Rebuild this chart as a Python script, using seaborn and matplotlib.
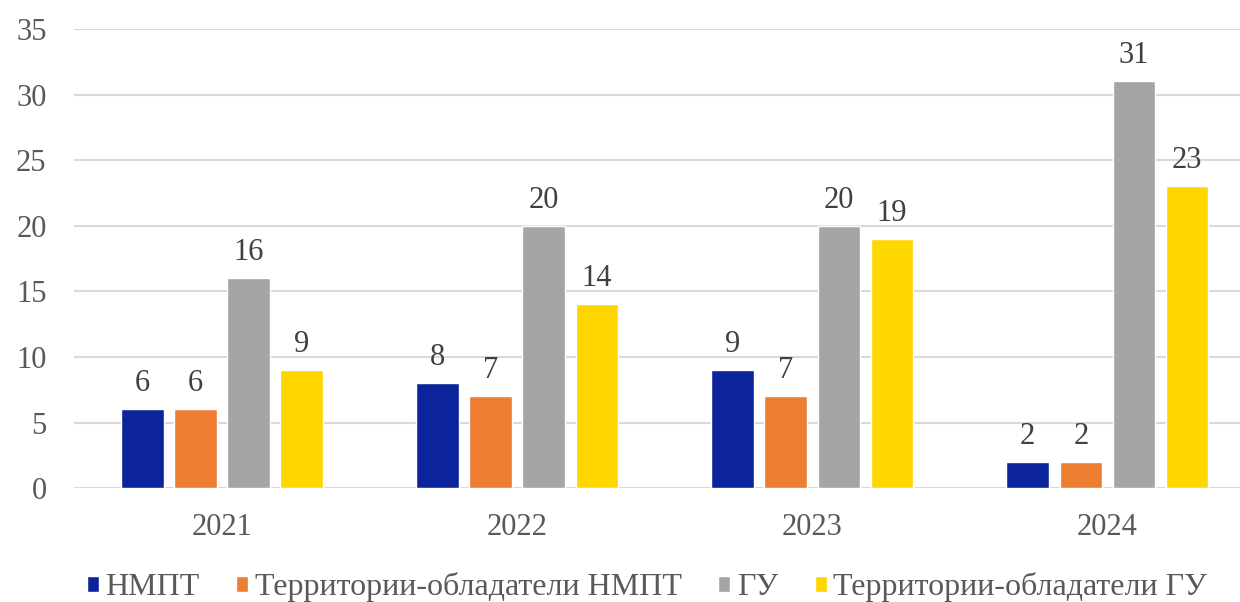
import pandas as pd
import seaborn as sns
import matplotlib.pyplot as plt

years = ['2021', '2022', '2023', '2024']
series = ['НМПТ', 'Территории-обладатели НМПТ', 'ГУ', 'Территории-обладатели ГУ']
nmpt = [6, 8, 9, 2]
terr_nmpt = [6, 7, 7, 2]
gu = [16, 20, 20, 31]
terr_gu = [9, 14, 19, 23]
colors = ['#0B239B', '#ED7D31', '#A5A5A5', '#FFD700']

rows = []
for name, vals in zip(series, [nmpt, terr_nmpt, gu, terr_gu]):
    for y, v in zip(years, vals):
        rows.append({'year': y, 'series': name, 'value': v})
df = pd.DataFrame(rows)

sns.set_style('white')
plt.rcParams['font.family'] = ['Liberation Serif', 'DejaVu Serif']

fig = plt.figure(figsize=(12.4, 6.02), dpi=100)
# plot area extends a little past the right edge, as in the original
ax = fig.add_axes([0.06, 0.189, 0.952, 0.763])

sns.barplot(data=df, x='year', y='value', hue='series', order=years,
            hue_order=series, palette=colors, width=0.72, gap=0.2,
            saturation=1, ax=ax)

for c in ax.containers:
    ax.bar_label(c, fmt='%d', padding=8, fontsize=22, color='#404040')

ax.set_ylim(0, 35)
ax.set_xlim(-0.5, 3.5)
ax.set_yticks(range(0, 36, 5))
ax.yaxis.grid(True, color='#D9D9D9', linewidth=1.5)
ax.set_axisbelow(True)
for s in ax.spines.values():
    s.set_visible(False)
ax.tick_params(axis='both', length=0, labelsize=22, colors='#595959')
ax.tick_params(axis='x', pad=18)
ax.tick_params(axis='y', pad=20)
ax.set_xlabel('')
ax.set_ylabel('')

leg = ax.legend(loc='upper center', bbox_to_anchor=(0.485, -0.12), ncol=4,
                frameon=False, fontsize=23, handlelength=0.38, handleheight=0.38,
                handletextpad=0.2, columnspacing=1.15)
for t in leg.get_texts():
    t.set_color('#595959')

fig.savefig('out.png', dpi=100)
